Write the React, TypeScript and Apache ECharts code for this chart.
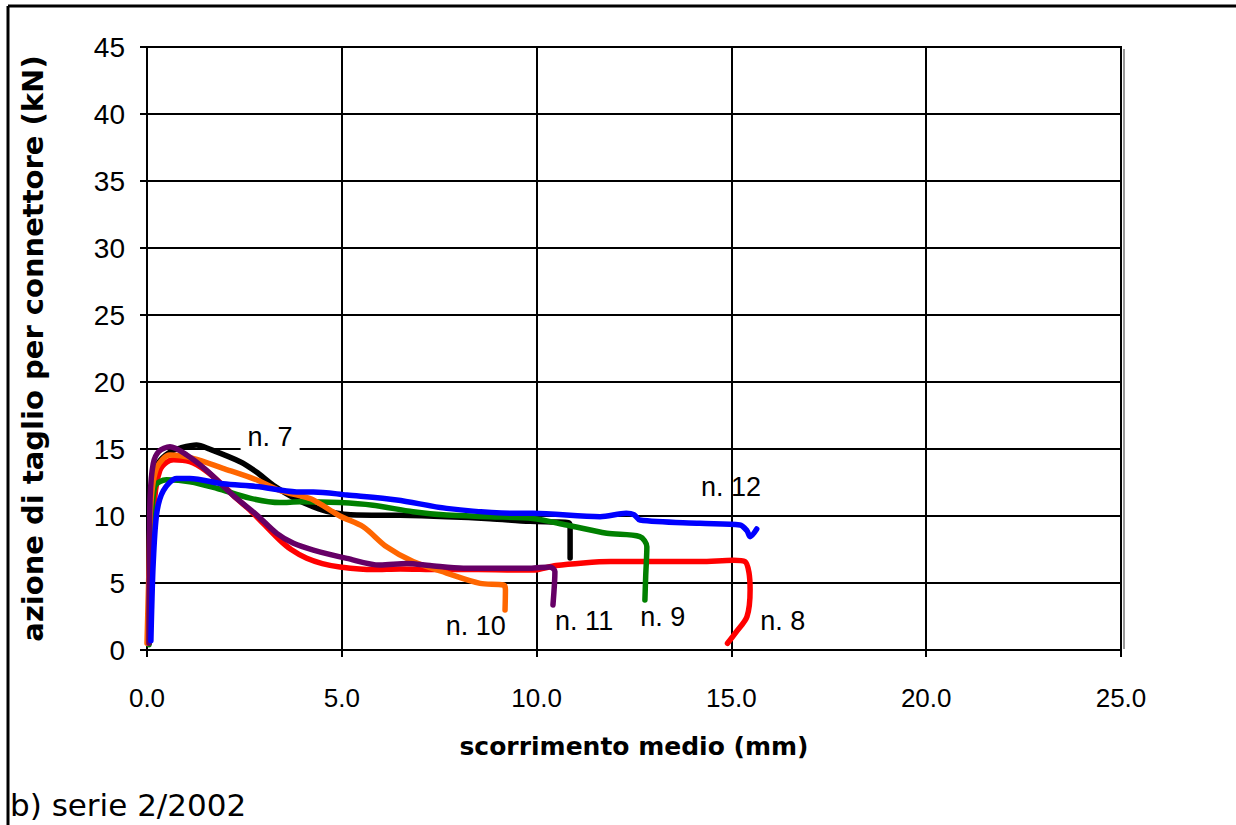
import React, { useEffect, useRef } from "react";
import * as echarts from "echarts";

// x: scorrimento medio (mm), y: azione di taglio per connettore (kN)
const n7: number[][] = [[0.05,0.5],[0.08,8],[0.15,12.5],[0.3,14],[0.6,14.8],[0.85,15.07],[1.27,15.3],[1.6,15.0],[2.39,14.05],[2.8,13.3],[3.24,12.3],[3.8,11.3],[4.26,10.7],[4.7,10.3],[5.38,10.07],[6.5,10.05],[7.69,9.95],[8.8,9.8],[9.83,9.6],[10.5,9.55],[10.82,9.5],[10.86,9.2],[10.86,6.87]];
const n8: number[][] = [[0.05,0.5],[0.1,6],[0.2,11.4],[0.33,13.4],[0.5,14.0],[0.68,14.2],[1.1,14.05],[1.5,13.4],[1.95,12.3],[2.3,11.3],[2.64,10.45],[3.0,9.4],[3.41,8.2],[3.7,7.5],[4.1,6.84],[4.5,6.45],[4.95,6.2],[5.8,6.0],[6.5,6.05],[7.5,6.0],[8.5,6.0],[9.4,5.97],[9.9,5.97],[10.5,6.3],[11.2,6.5],[11.9,6.6],[13.3,6.6],[14.2,6.6],[15.05,6.7],[15.35,6.6],[15.45,5.8],[15.48,4.48],[15.4,2.49],[15.13,1.37],[14.9,0.5]];
const n9: number[][] = [[0.05,0.4],[0.1,8],[0.2,12.2],[0.5,12.7],[1.1,12.56],[1.79,12.07],[2.64,11.33],[3.41,11.0],[3.93,11.07],[4.95,11.0],[5.8,10.8],[6.83,10.32],[7.69,10.07],[8.8,9.95],[9.9,9.82],[10.77,9.33],[11.8,8.71],[12.65,8.46],[12.83,7.7],[12.8,5.5],[12.78,3.73]];
const n10: number[][] = [[0.0,0.5],[0.05,6],[0.1,11],[0.25,13.6],[0.59,14.55],[1.18,14.3],[1.95,13.56],[2.82,12.69],[3.41,11.9],[3.84,11.57],[4.27,11.2],[4.95,10.0],[5.55,9.2],[6.15,7.7],[6.83,6.6],[7.69,5.74],[8.55,4.97],[9.15,4.85],[9.2,4.5],[9.19,2.99]];
const n11: number[][] = [[0.05,0.5],[0.06,6.5],[0.08,11.4],[0.16,13.9],[0.3,14.8],[0.59,15.17],[1.02,14.55],[1.53,13.4],[2.2,11.57],[2.82,10.07],[3.33,8.7],[3.76,7.96],[4.27,7.46],[5.13,6.84],[5.98,6.34],[6.67,6.45],[7.26,6.3],[8.12,6.1],[9.83,6.1],[10.34,6.2],[10.47,5.85],[10.42,3.36]];
const n12: number[][] = [[0.1,0.7],[0.12,3],[0.16,6.5],[0.25,10.2],[0.42,11.9],[0.76,12.8],[1.1,12.8],[1.95,12.4],[2.82,12.2],[3.84,11.8],[4.27,11.8],[5.13,11.57],[6.41,11.2],[7.69,10.57],[9.4,10.2],[9.9,10.2],[11.63,9.95],[12.3,10.2],[12.5,10.1],[12.65,9.7],[14.19,9.45],[15.22,9.33],[15.4,8.9],[15.48,8.46],[15.65,9.03]];

const seriesNames = ["n. 7", "n. 8", "n. 9", "n. 10", "n. 11", "n. 12"];
const seriesData = [n7, n8, n9, n10, n11, n12];
const seriesColors = ["#000000", "#FF0000", "#008000", "#FF6600", "#660066", "#0000FF"];
// label anchor positions in data units
const labelCoords: number[][] = [[3.16, 15.9], [16.32, 2.16], [13.24, 2.46], [8.44, 1.8], [11.22, 2.2], [14.99, 12.16]];
const drawOrder = [0, 1, 2, 4, 3, 5];

export default function App() {
  const ref = useRef<HTMLDivElement>(null);
  useEffect(() => {
    document.body.style.margin = "0";
    const chart = echarts.init(ref.current!, null, { renderer: "svg" });
    const font = "'Liberation Sans', Arial, sans-serif";
    const boldFont = "'DejaVu Sans', Verdana, sans-serif";
    const series = drawOrder.map((i) => ({
      type: "line",
      name: seriesNames[i],
      data: seriesData[i],
      showSymbol: false,
      symbol: "none",
      smooth: 0.3,
      lineStyle: { color: seriesColors[i], width: 5.5, cap: "round", join: "round" },
      z: 3 + i,
      markPoint: {
        symbol: "circle",
        symbolSize: 1,
        itemStyle: { color: "rgba(0,0,0,0)" },
        silent: true,
        data: [
          {
            coord: labelCoords[i],
            label: {
              show: true,
              position: "inside",
              formatter: seriesNames[i],
              color: "#000",
              fontFamily: font,
              fontSize: 27,
              backgroundColor: i === 0 ? "#fff" : "transparent",
              padding: i === 0 ? [0, 7, 0, 7] : 0,
            },
          },
        ],
      },
    }));
    chart.setOption({
      animation: false,
      backgroundColor: "#fff",
      grid: { left: 147, right: 115, top: 47, bottom: 175, show: true, borderColor: "#000", borderWidth: 2, backgroundColor: "transparent" },
      xAxis: {
        type: "value",
        min: 0,
        max: 25,
        interval: 5,
        name: "scorrimento medio (mm)",
        nameLocation: "middle",
        nameGap: 84,
        nameTextStyle: { fontFamily: boldFont, fontWeight: "bold", fontSize: 25, color: "#000" },
        axisLine: { lineStyle: { color: "#000", width: 2 } },
        axisTick: { show: true, inside: false, length: 7, lineStyle: { color: "#000", width: 2 } },
        axisLabel: { formatter: (v: number) => v.toFixed(1), fontFamily: font, fontSize: 26, color: "#000", margin: 35 },
        splitLine: { show: true, lineStyle: { color: "#000", width: 2 } },
      },
      yAxis: {
        type: "value",
        min: 0,
        max: 45,
        interval: 5,
        name: "azione di taglio per connettore (kN)",
        nameLocation: "middle",
        nameGap: 100,
        nameTextStyle: { fontFamily: boldFont, fontWeight: "bold", fontSize: 29, color: "#000" },
        axisLine: { lineStyle: { color: "#000", width: 2 } },
        axisTick: { show: true, inside: false, length: 7, lineStyle: { color: "#000", width: 2 } },
        axisLabel: { fontFamily: font, fontSize: 28, color: "#000", margin: 22 },
        splitLine: { show: true, lineStyle: { color: "#000", width: 2 } },
      },
      graphic: [
        { type: "line", shape: { x1: 8, y1: 6, x2: 1236, y2: 6 }, style: { stroke: "#000", lineWidth: 3 } },
        { type: "line", shape: { x1: 8, y1: 6, x2: 8, y2: 825 }, style: { stroke: "#000", lineWidth: 3 } },
        { type: "line", shape: { x1: 1124, y1: 49, x2: 1124, y2: 649 }, style: { stroke: "#999", lineWidth: 2 } },
        { type: "text", x: 10, y: 805, style: { text: "b) serie 2/2002", fontFamily: "'DejaVu Sans', Verdana, sans-serif", fontSize: 31, fill: "#000", verticalAlign: "middle" } },
      ],
      series,
    });
    return () => chart.dispose();
  }, []);
  return <div ref={ref} style={{ position: "fixed", left: 0, top: 0, width: 1236, height: 825 }} />;
}
